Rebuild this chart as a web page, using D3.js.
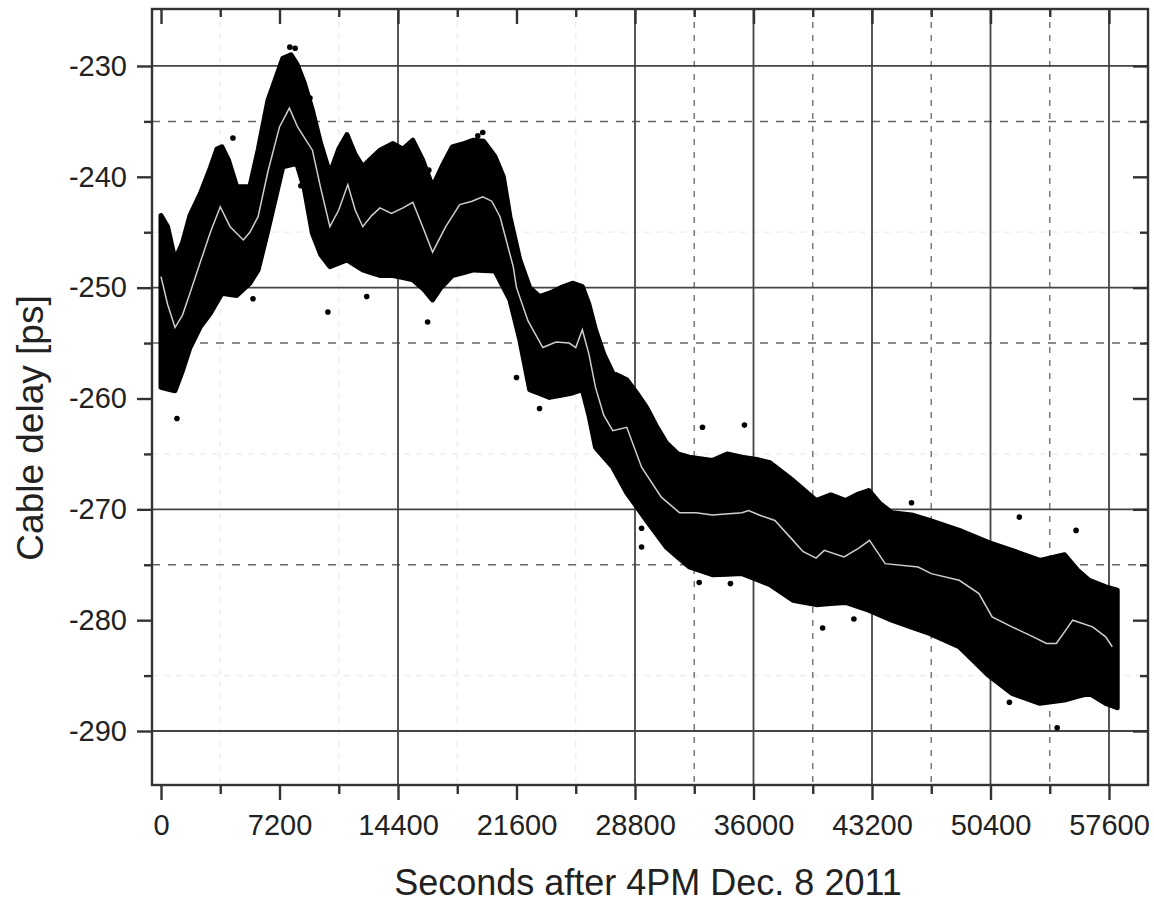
<!DOCTYPE html>
<html lang="en">
<head>
  <meta charset="UTF-8">
  <title>Cable delay</title>
  <script src="https://d3js.org/d3.v7.min.js"></script>
  <style>
    body { margin: 0; background: #fff; }
    text { font-family: 'Liberation Sans', Arial, sans-serif; fill: #222; }
  </style>
</head>
<body>
<div id="chart"></div>
<script>
// upper edge of the dense point cloud [seconds, ps]
const upperEdge = [[0,-243.5],[400,-244.5],[850,-247.5],[1300,-246],[1760,-243.5],[2400,-241.5],[3000,-239.2],[3400,-237.5],[3700,-237.3],[4100,-238.5],[4600,-240.9],[5400,-240.9],[5900,-237.6],[6500,-233.1],[7000,-231],[7400,-229.3],[7900,-229],[8250,-229.8],[8700,-231.5],[9200,-234],[9700,-237],[10260,-239.7],[10800,-237.5],[11300,-236.2],[11800,-238],[12260,-239.1],[12800,-238.3],[13300,-237.6],[14100,-237],[14700,-237.5],[15300,-236.7],[15900,-238.5],[16500,-240.9],[17100,-239],[17700,-237.3],[18400,-237],[19000,-236.7],[19600,-236.8],[20300,-238.2],[20800,-240],[21200,-243.6],[21800,-247.5],[22400,-250],[23000,-250.8],[23600,-250.5],[24300,-250],[25000,-249.6],[25600,-249.9],[26000,-251.5],[26400,-253.8],[26900,-256],[27450,-257.7],[28300,-258.3],[28900,-259.5],[29500,-260.8],[30100,-262.5],[30700,-264],[31400,-265],[32100,-265.3],[33500,-265.6],[34400,-265],[35300,-265.3],[36200,-265.5],[37000,-265.8],[38400,-267.4],[39800,-269.2],[40700,-268.7],[41600,-269.2],[42400,-268.6],[43000,-268.3],[43700,-269.5],[44400,-270.3],[45600,-270.5],[46700,-271],[48500,-271.9],[50300,-273],[51700,-273.7],[53400,-274.6],[54900,-274.1],[55700,-275.5],[56400,-276.4],[57400,-277],[58100,-277.3]];

// lower edge of the dense point cloud
const lowerEdge = [[0,-259],[850,-259.3],[1300,-257.5],[1760,-255.4],[2400,-253.5],[3000,-252.3],[3700,-250.5],[4600,-250.7],[5400,-249.6],[5900,-248.4],[6500,-244.8],[7400,-239.1],[8250,-238.8],[8700,-241],[9200,-245.1],[9700,-247],[10260,-248.1],[10800,-247.8],[11300,-247.5],[12260,-248.4],[13300,-248.9],[14100,-248.9],[15300,-249.3],[16000,-250.2],[16500,-251.1],[17000,-250],[17700,-248.9],[19000,-248.4],[20300,-248.5],[21200,-251.1],[21800,-254.7],[22400,-259.2],[23600,-259.9],[25000,-259.5],[25600,-259.2],[26000,-261.5],[26400,-264.4],[27450,-266.2],[28300,-268.5],[29500,-271],[30700,-273.4],[32100,-275.2],[33500,-275.9],[35300,-275.8],[37000,-276.8],[38400,-278.2],[39800,-278.6],[41600,-278.4],[43000,-279.1],[44400,-280],[46700,-281.2],[48500,-282.4],[50300,-285],[51700,-286.6],[53400,-287.5],[54900,-287.2],[56400,-286.6],[57400,-287.5],[58100,-287.9]];

// smoothed (white) curve
const smoothLine = [[0,-249],[400,-251.5],[850,-253.6],[1300,-252.5],[1760,-250.5],[2300,-248.1],[3000,-245],[3600,-242.7],[4200,-244.5],[5000,-245.7],[5400,-245],[5900,-243.6],[6500,-239.5],[7200,-235.5],[7800,-233.8],[8300,-235.5],[9200,-237.6],[9700,-241],[10260,-244.5],[10800,-243],[11350,-240.7],[11800,-243],[12260,-244.5],[12800,-243.5],[13300,-242.8],[14000,-243.3],[14700,-242.8],[15300,-242.3],[15900,-244.5],[16500,-246.8],[17300,-244.5],[18150,-242.5],[18900,-242.2],[19550,-241.8],[20100,-242.2],[20600,-243.6],[21400,-248.1],[21600,-250],[22300,-253],[23200,-255.4],[24000,-254.9],[24800,-255],[25200,-255.4],[25600,-253.8],[26000,-256],[26400,-259],[26900,-261.5],[27450,-262.9],[28300,-262.6],[29200,-266.2],[30400,-268.9],[31500,-270.3],[32500,-270.3],[33500,-270.5],[34500,-270.4],[35300,-270.3],[35700,-270.1],[36500,-270.6],[37300,-271],[38400,-272.8],[39000,-273.8],[39800,-274.4],[40300,-273.7],[41500,-274.3],[42400,-273.5],[43050,-272.8],[44000,-274.9],[46000,-275.2],[46800,-275.8],[48500,-276.4],[49700,-277.6],[50500,-279.7],[51700,-280.6],[53000,-281.5],[53800,-282.1],[54400,-282.1],[55400,-280],[56600,-280.6],[57400,-281.5],[57800,-282.4]];

// scattered points outside the cloud
const outliers = [[100,-245],[970,-261.8],[4370,-236.5],[5590,-251],[7830,-228.3],[8150,-228.4],[8500,-240.8],[9050,-232.9],[9450,-237.3],[10140,-252.2],[12500,-250.8],[16200,-253.1],[16270,-239.4],[19250,-236.3],[19550,-236],[21600,-258.1],[23000,-260.9],[29200,-271.7],[29200,-273.4],[32700,-276.6],[32900,-262.6],[34600,-276.7],[35450,-262.4],[40200,-280.7],[42100,-279.9],[45600,-269.4],[51550,-287.4],[52150,-270.7],[54450,-289.7],[55600,-271.9]];

const xMajor = [0, 7200, 14400, 21600, 28800, 36000, 43200, 50400, 57600];
const xMinor = [3600, 10800, 18000, 25200, 32400, 39600, 46800, 54000];
const yMajor = [-230, -240, -250, -260, -270, -280, -290];
const yMinor = [-235, -245, -255, -265, -275, -285];

const xGridSolid = [14400, 28800, 36000, 43200, 50400, 57600];
const xGridDash = [32400, 39600, 46800, 54000];
const xGridFaint = [3600, 10800, 18000, 25200];
const yGridSolid = [-230, -250, -270, -290];
const yGridDash = [-235, -255, -275];
const yGridFaint = [-245, -265, -285];

const W = 1154, H = 907;
const pLeft = 152, pRight = 1148, pTop = 9, pBottom = 785;

const svg = d3.select("#chart").append("svg")
    .attr("width", W).attr("height", H);

const x = d3.scaleLinear().domain([-547, 59970]).range([pLeft, pRight]);
const y = d3.scaleLinear().domain([-294.87, -224.86]).range([pBottom, pTop]);

// grid
const grid = svg.append("g");
function vlines(vals, color, dash, w) {
    grid.selectAll(null).data(vals).enter().append("line")
        .attr("x1", d => x(d)).attr("x2", d => x(d))
        .attr("y1", pTop).attr("y2", pBottom)
        .attr("stroke", color).attr("stroke-width", w)
        .attr("stroke-dasharray", dash);
}
function hlines(vals, color, dash, w) {
    grid.selectAll(null).data(vals).enter().append("line")
        .attr("y1", d => y(d)).attr("y2", d => y(d))
        .attr("x1", pLeft).attr("x2", pRight)
        .attr("stroke", color).attr("stroke-width", w)
        .attr("stroke-dasharray", dash);
}
vlines(xGridFaint, "#efefef", "6,6", 1.5);
hlines(yGridFaint, "#efefef", "6,6", 1.5);
vlines(xGridDash, "#777", "6,7", 1.5);
hlines(yGridDash, "#666", "8,8", 1.5);
vlines(xGridSolid, "#444", null, 1.8);
hlines(yGridSolid, "#444", null, 1.8);

// point cloud as a band between its edges
const upperFn = d3.scaleLinear().domain(upperEdge.map(d => d[0])).range(upperEdge.map(d => d[1]));
const lowerFn = d3.scaleLinear().domain(lowerEdge.map(d => d[0])).range(lowerEdge.map(d => d[1]));
const ts = Array.from(new Set(upperEdge.map(d => d[0]).concat(lowerEdge.map(d => d[0])))).sort((a, b) => a - b);
const area = d3.area()
    .x(d => x(d[0]))
    .y0(d => y(d[1]))
    .y1(d => y(d[2]));
svg.append("path")
    .datum(ts.map(t => [t, lowerFn(t), upperFn(t)]))
    .attr("d", area)
    .attr("fill", "#000")
    .attr("stroke", "#000")
    .attr("stroke-width", 5)
    .attr("stroke-linejoin", "round");

svg.append("g").selectAll("circle")
    .data(outliers).enter().append("circle")
    .attr("cx", d => x(d[0])).attr("cy", d => y(d[1]))
    .attr("r", 2.8).attr("fill", "#000");

svg.append("path")
    .datum(smoothLine)
    .attr("d", d3.line().x(d => x(d[0])).y(d => y(d[1])))
    .attr("fill", "none")
    .attr("stroke", "#cfcfcf")
    .attr("stroke-width", 1.5);

// axes
svg.append("g").attr("transform", `translate(0,${pBottom})`)
    .call(d3.axisBottom(x).tickValues(xMajor).tickSize(15).tickPadding(14).tickFormat(d3.format("d")));
svg.append("g").attr("transform", `translate(0,${pBottom})`)
    .call(d3.axisBottom(x).tickValues(xMinor).tickSize(9).tickFormat(""));
svg.append("g").attr("transform", `translate(0,${pTop})`)
    .call(d3.axisBottom(x).tickValues(xMajor).tickSize(15).tickFormat(""));
svg.append("g").attr("transform", `translate(0,${pTop})`)
    .call(d3.axisBottom(x).tickValues(xMinor).tickSize(8).tickFormat(""));

svg.append("g").attr("transform", `translate(${pLeft},0)`)
    .call(d3.axisLeft(y).tickValues(yMajor).tickSize(15).tickPadding(10).tickFormat(d => d));
svg.append("g").attr("transform", `translate(${pLeft},0)`)
    .call(d3.axisLeft(y).tickValues(yMinor).tickSize(8).tickFormat(""));
svg.append("g").attr("transform", `translate(${pRight},0)`)
    .call(d3.axisLeft(y).tickValues(yMajor).tickSize(15).tickFormat(""));
svg.append("g").attr("transform", `translate(${pRight},0)`)
    .call(d3.axisLeft(y).tickValues(yMinor).tickSize(8).tickFormat(""));

svg.selectAll(".domain").remove();
svg.selectAll(".tick line").attr("stroke", "#333").attr("stroke-width", 2.4);
svg.selectAll(".tick text")
    .style("font-size", "29px")
    .style("font-family", "'Liberation Sans', Arial, sans-serif")
    .attr("fill", "#222");

// frame
svg.append("rect")
    .attr("x", pLeft).attr("y", pTop)
    .attr("width", pRight - pLeft).attr("height", pBottom - pTop)
    .attr("fill", "none").attr("stroke", "#333").attr("stroke-width", 2.4);

// titles
svg.append("text")
    .attr("x", 648).attr("y", 895)
    .attr("text-anchor", "middle")
    .style("font-size", "36px")
    .attr("fill", "#333")
    .text("Seconds after 4PM Dec. 8 2011");

svg.append("text")
    .attr("transform", "translate(43,428) rotate(-90)")
    .attr("text-anchor", "middle")
    .style("font-size", "37px")
    .attr("fill", "#333")
    .text("Cable delay [ps]");
</script>
</body>
</html>
